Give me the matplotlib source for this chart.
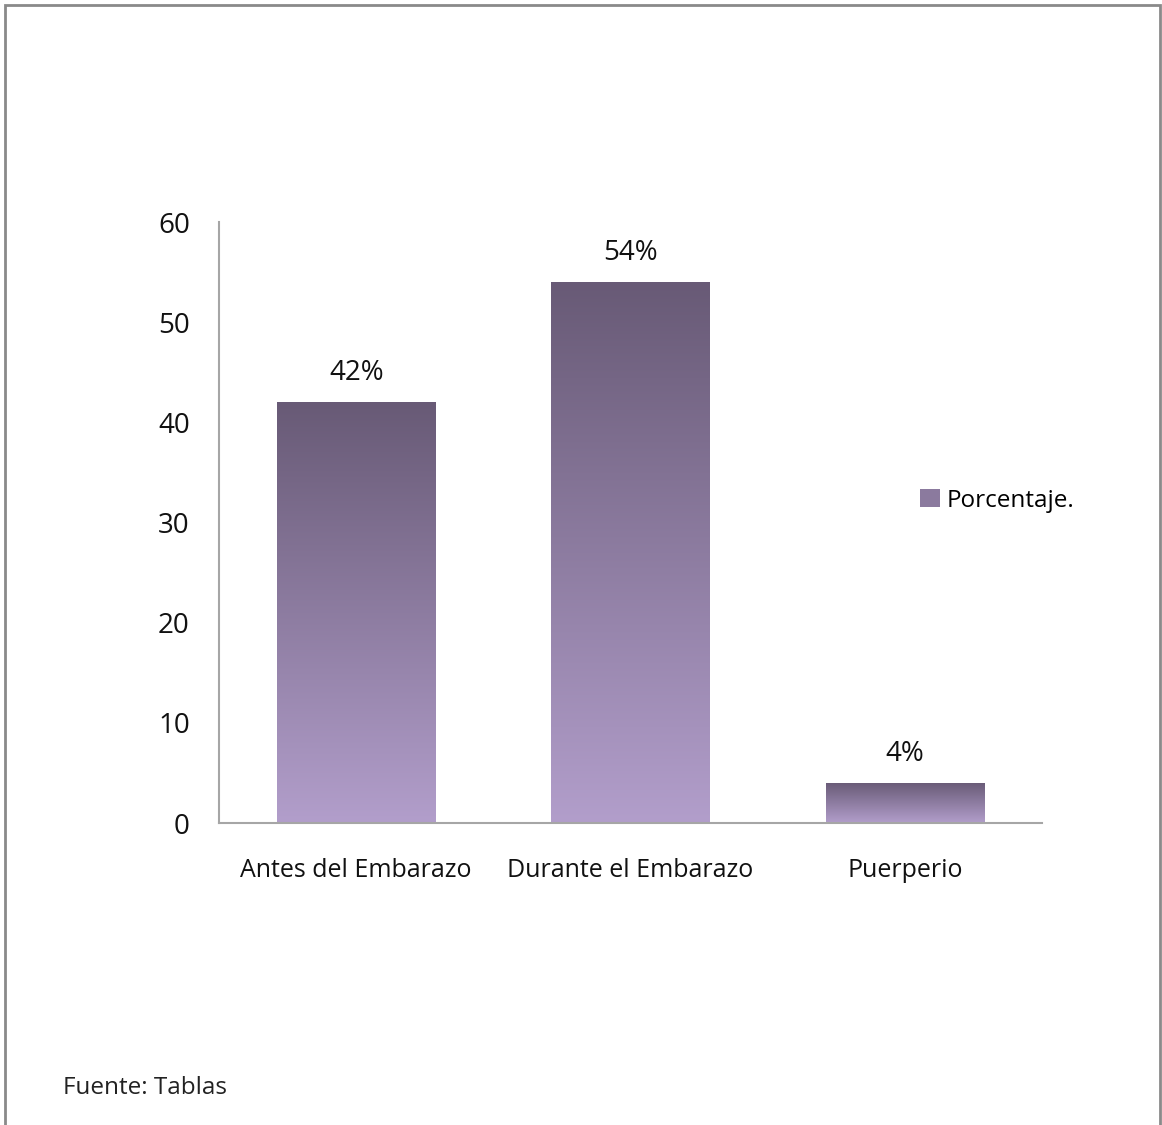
import numpy as np
import matplotlib
matplotlib.use("Agg")
import matplotlib.pyplot as plt
from matplotlib.colors import LinearSegmentedColormap
from matplotlib.patches import Rectangle, Patch

# datos
categorias = ["Antes del Embarazo", "Durante el Embarazo", "Puerperio"]
porcentajes = [42, 54, 4]
etiquetas = ["42%", "54%", "4%"]
serie = "Porcentaje."
fuente = "Fuente: Tablas"

plt.rcParams['font.family'] = ['Open Sans', 'DejaVu Sans']

fig = plt.figure(figsize=(11.62, 11.25), dpi=100)
ax = fig.add_axes([0.1885, 0.2684, 0.7083, 0.5342])

# degradado de arriba (oscuro) a abajo (claro)
cmap = LinearSegmentedColormap.from_list("morado", ["#b29ecb", "#685a76"])
grad = np.linspace(0, 1, 256).reshape(-1, 1)

x = np.arange(len(categorias))
bars = ax.bar(x, porcentajes, width=0.577, color="none", edgecolor="none")
for b in bars:
    x0, y0 = b.get_x(), b.get_y()
    w, h = b.get_width(), b.get_height()
    im = ax.imshow(grad, extent=[x0, x0 + w, y0, y0 + h], origin="lower",
                   aspect="auto", cmap=cmap, zorder=2)
    im.set_clip_path(b)

for xi, v, t in zip(x, porcentajes, etiquetas):
    ax.annotate(t, (xi, v), xytext=(0, 11), textcoords="offset points",
                ha="center", va="bottom", fontsize=20, color="#111111")

ax.set_xlim(-0.5, 2.5)
ax.set_ylim(0, 60)
ax.set_yticks(range(0, 61, 10))
ax.set_xticks(x)
ax.set_xticklabels(categorias)
ax.tick_params(axis="y", length=0, pad=21, labelsize=20, colors="#111111")
ax.tick_params(axis="x", length=0, pad=25, labelsize=18, colors="#111111")
for s in ["top", "right"]:
    ax.spines[s].set_visible(False)
for s in ["left", "bottom"]:
    ax.spines[s].set_color("#a6a6a6")
    ax.spines[s].set_linewidth(1.5)

# leyenda
fig.legend(handles=[Patch(facecolor="#8b7a9e", edgecolor="none", label=serie)],
           loc="center left", bbox_to_anchor=(0.773, 0.555), frameon=False,
           fontsize=17.5, handlelength=0.8, handleheight=0.8, handletextpad=0.3)

fig.text(0.054, 0.022, fuente, fontsize=17.5, color="#222222", ha="left", va="bottom")

# marco exterior
fig.patches.append(Rectangle((0.004, -0.05), 0.994, 1.05 - 0.004, transform=fig.transFigure,
                             fill=False, edgecolor="#8a8a8a", linewidth=2))

fig.savefig("out.png", dpi=100)
